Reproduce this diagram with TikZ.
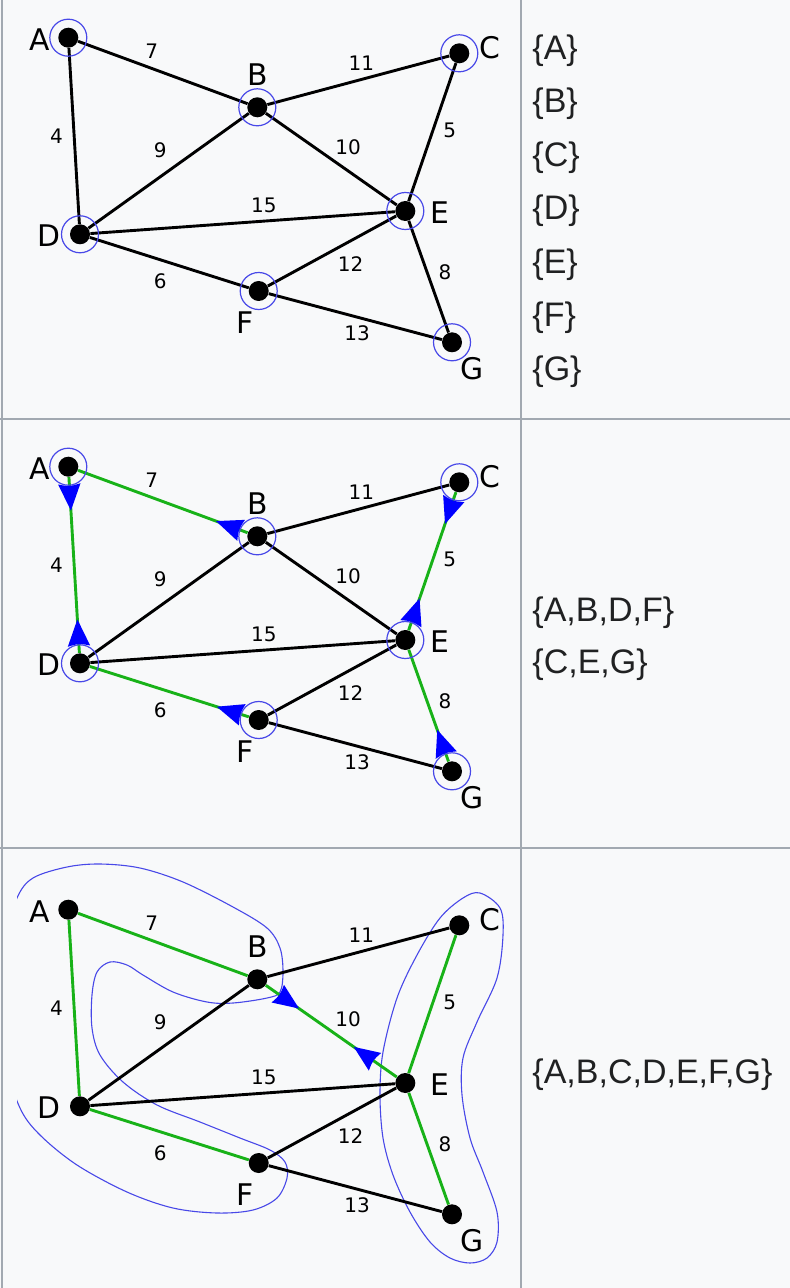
\documentclass[tikz,border=0pt]{standalone}
\usepackage{fontspec}
\setmainfont{Liberation Sans}
\newfontfamily\gfont{DejaVu Sans}
\usetikzlibrary{calc}
\definecolor{bg}{HTML}{F8F9FA}
\definecolor{rulec}{HTML}{A2A9B1}
\definecolor{txt}{HTML}{202122}
\definecolor{grn}{RGB}{24,178,24}
\definecolor{ringc}{RGB}{72,72,232}
\definecolor{arrb}{RGB}{0,0,255}

\newcommand\graphrow[1]{%
  \node[vtx] (A#1) at (68.3,37.7) {};
  \node[vtx] (B#1) at (257.3,107.3) {};
  \node[vtx] (C#1) at (459.3,53.3) {};
  \node[vtx] (D#1) at (80,234.3) {};
  \node[vtx] (E#1) at (405.3,211) {};
  \node[vtx] (F#1) at (258.7,291) {};
  \node[vtx] (G#1) at (452,342.3) {};
  \draw[eAB] (A#1) -- (B#1);
  \draw[eAD] (A#1) -- (D#1);
  \draw[eBC] (B#1) -- (C#1);
  \draw[eBD] (B#1) -- (D#1);
  \draw[eBE] (B#1) -- (E#1);
  \draw[eCE] (C#1) -- (E#1);
  \draw[eDE] (D#1) -- (E#1);
  \draw[eDF] (D#1) -- (F#1);
  \draw[eEF] (E#1) -- (F#1);
  \draw[eEG] (E#1) -- (G#1);
  \draw[eFG] (F#1) -- (G#1);
  \node[nlab] (lA#1) at (39.7,39.2) {A};
  \node[nlab] (lB#1) at (257.5,75) {B};
  \node[nlab] (lC#1) at (490,48) {C};
  \node[nlab] (lD#1) at (49,235.3) {D};
  \node[nlab] (lE#1) at (440,212.5) {E};
  \node[nlab] (lF#1) at (245.3,322.5) {F};
  \node[nlab] (lG#1) at (472.5,369) {G};
  \node[wlab] (w7#1) at (151.7,50.8) {7};
  \node[wlab] (w11#1) at (361.3,62.8) {11};
  \node[wlab] (w4#1) at (56.5,135.8) {4};
  \node[wlab] (w9#1) at (160.3,150.5) {9};
  \node[wlab] (w10#1) at (348,147) {10};
  \node[wlab] (w5#1) at (449.7,130) {5};
  \node[wlab] (w15#1) at (263.8,205) {15};
  \node[wlab] (w12#1) at (350.5,264.2) {12};
  \node[wlab] (w8#1) at (445,272.5) {8};
  \node[wlab] (w6#1) at (160.3,280.8) {6};
  \node[wlab] (w13#1) at (357,333) {13};
}
\newcommand\ringsrow[1]{%
  \foreach \v in {A,B,C,D,E,F,G} {\node[ring] (r\v#1) at (\v#1.center) {};}
}
% P, Q, base dist, tip dist, half width, control dist
\newcommand\barb[6]{%
  \path ($(#1.center)!#3!(#2.center)$) coordinate (bc)
        ($(#1.center)!#4!(#2.center)$) coordinate (tp)
        ($(#1.center)!#6!(#2.center)$) coordinate (bm);
  \path ($(bc)!#5!90:(#2.center)$) coordinate (bl)
        ($(bc)!#5!-90:(#2.center)$) coordinate (br);
  \fill[arrb] (bl) -- (tp) -- (br) .. controls (bm) .. (bl) -- cycle;
}

\begin{document}
\begin{tikzpicture}[x=0.5pt,y=-0.5pt,
  vtx/.style={circle,fill=black,inner sep=0pt,minimum size=10pt},
  ring/.style={circle,draw=ringc,line width=0.6pt,inner sep=0pt,minimum size=18.5pt},
  plain/.style={line width=1.45pt,black},
  tree/.style={line width=1.45pt,grn},
  eAB/.style=plain, eAD/.style=plain, eBC/.style=plain, eBD/.style=plain,
  eBE/.style=plain, eCE/.style=plain, eDE/.style=plain, eDF/.style=plain,
  eEF/.style=plain, eEG/.style=plain, eFG/.style=plain,
  nlab/.style={inner sep=0pt,font=\gfont\fontsize{14.9pt}{16pt}\selectfont},
  wlab/.style={inner sep=0pt,font=\gfont\fontsize{10pt}{12pt}\selectfont},
  tab/.style={inner sep=0pt,anchor=base west,text=txt,font=\fontsize{17pt}{20pt}\selectfont},
  outline/.style={draw=ringc,line width=0.55pt}
]
\useasboundingbox (0,0) rectangle (790,1288);
\fill[bg] (0,0) rectangle (790,1288);
% table rules
\draw[rulec,line width=1pt] (1.5,0) -- (1.5,1288);
\draw[rulec,line width=1pt] (520.5,0) -- (520.5,1288);
\draw[rulec,line width=1pt] (0,419.3) -- (790,419.3);
\draw[rulec,line width=1pt] (0,848.3) -- (790,848.3);

% row 1
\begin{scope}
  \graphrow{1}
  \ringsrow{1}
\end{scope}
\node[tab] (s1A) at (532,59.3) {\{A\}};
\node[tab] (s1B) at (532,112.8) {\{B\}};
\node[tab] (s1C) at (532,166.2) {\{C\}};
\node[tab] (s1D) at (532,219.7) {\{D\}};
\node[tab] (s1E) at (532,273.1) {\{E\}};
\node[tab] (s1F) at (532,326.6) {\{F\}};
\node[tab] (s1G) at (532,380.0) {\{G\}};

% row 2
\begin{scope}[shift={(0,429)}, eAB/.style=tree, eAD/.style=tree, eCE/.style=tree,
  eDF/.style=tree, eEG/.style=tree]
  \graphrow{2}
  \ringsrow{2}
  \barb{A2}{D2}{8.6pt}{22pt}{5.6pt}{10pt}
  \barb{B2}{A2}{8.6pt}{22pt}{5.6pt}{10pt}
  \barb{C2}{E2}{8.6pt}{22pt}{5.6pt}{10pt}
  \barb{D2}{A2}{8.6pt}{22pt}{5.6pt}{10pt}
  \barb{E2}{C2}{8.6pt}{22pt}{5.6pt}{10pt}
  \barb{F2}{D2}{8.6pt}{22pt}{5.6pt}{10pt}
  \barb{G2}{E2}{8.6pt}{22pt}{5.6pt}{10pt}
\end{scope}
\node[tab] (s2a) at (532,621.7) {\{A,B,D,F\}};
\node[tab] (s2b) at (532,673) {\{C,E,G\}};

% row 3
\begin{scope}
  \clip (17,849) rectangle (519.5,1288);
  \draw[outline] plot[smooth cycle, tension=0.55] coordinates {
    (17,898) (33,878) (67,867) (100,864) (140,868) (183,882) (233,907) (267,928)
    (280,948) (283,972) (280,992) (267,998) (233,1003) (207,1002) (173,992)
    (143,975) (127,965) (110,962) (97,972) (92,995) (92,1028) (100,1055)
    (123,1082) (157,1105) (200,1122) (240,1138) (270,1150) (285,1162) (287,1178)
    (277,1198) (253,1210) (217,1213) (173,1208) (127,1192) (77,1165) (40,1135)
    (20,1108) (5,1060) (0,1000) (5,940)};
  \draw[outline] plot[smooth cycle, tension=0.55] coordinates {
    (480,893) (500,908) (503,935) (497,978) (477,1022) (463,1058) (462,1095)
    (470,1138) (483,1172) (497,1212) (497,1242) (487,1258) (470,1263) (450,1258)
    (430,1242) (410,1212) (393,1175) (383,1138) (380,1095) (383,1052) (397,998)
    (417,955) (440,918) (463,898)};
\end{scope}
\begin{scope}[shift={(0,872)}, eAB/.style=tree, eAD/.style=tree, eCE/.style=tree,
  eDF/.style=tree, eEG/.style=tree, eBE/.style=tree]
  \graphrow{3}
  \barb{B3}{E3}{12.5pt}{25.5pt}{5.4pt}{13.8pt}
  \barb{E3}{B3}{18.5pt}{31.5pt}{5.4pt}{19.8pt}
\end{scope}
\node[tab] (s3a) at (532,1083.3) {\{A,B,C,D,E,F,G\}};
\end{tikzpicture}
\end{document}
